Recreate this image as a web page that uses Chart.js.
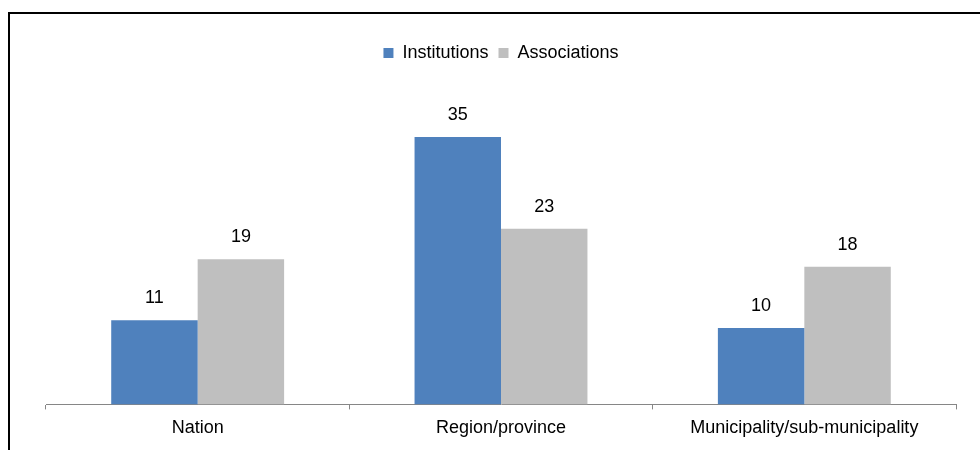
<!DOCTYPE html>
<html>
<head>
<meta charset="utf-8">
<script src="https://cdn.jsdelivr.net/npm/chart.js@4/dist/chart.umd.min.js"></script>
<style>
  html, body { margin: 0; padding: 0; background: #fff; }
  #wrap { position: relative; width: 980px; height: 450px; overflow: hidden; }
  #frame { position: absolute; left: 8px; top: 12px; width: 1000px; height: 500px;
           border-top: 2px solid #000; border-left: 2px solid #000; }
  canvas { position: absolute; left: 0; top: 0; }
</style>
</head>
<body>
<div id="wrap">
  <div id="frame"></div>
  <canvas id="chart_1" width="980" height="450"></canvas>
</div>
<script>
const categories = ['Nation', 'Region/province', 'Municipality/sub-municipality']
const institutions = [11, 35, 10]
const associations = [19, 23, 18]

const FONT = 'Liberation Sans, Arial, sans-serif'

// numbers above each bar, placed from the bar elements
const valueLabels = {
  id: 'valueLabels',
  afterDatasetsDraw(chart) {
    const ctx = chart.ctx
    ctx.save()
    ctx.font = '18px ' + FONT
    ctx.fillStyle = '#000'
    ctx.textAlign = 'center'
    ctx.textBaseline = 'middle'
    chart.data.datasets.forEach((ds, i) => {
      chart.getDatasetMeta(i).data.forEach((bar, j) => {
        ctx.fillText(ds.data[j], bar.x, bar.y - 22)
      })
    })
    ctx.restore()
  }
}

new Chart('chart_1', {
  type: 'bar',
  data: {
    labels: categories,
    datasets: [
      { label: 'Institutions', data: institutions, backgroundColor: '#4F81BD' },
      { label: 'Associations', data: associations, backgroundColor: '#BFBFBF' }
    ]
  },
  options: {
    responsive: false,
    animation: false,
    categoryPercentage: 0.57,
    barPercentage: 1,
    layout: { padding: { left: 46, right: 24, top: 34, bottom: 3 } },
    plugins: {
      tooltip: { enabled: false },
      legend: {
        labels: {
          boxWidth: 10, boxHeight: 10, padding: 10,
          color: '#000', font: { family: FONT, size: 18 }
        }
      }
    },
    scales: {
      x: {
        grid: { drawOnChartArea: false, drawTicks: true, tickLength: 5, color: '#868686' },
        border: { color: '#868686', width: 1 },
        ticks: { color: '#000', padding: 8, font: { family: FONT, size: 18 } }
      },
      y: { display: false, min: 0, max: 43.5 }
    }
  },
  plugins: [valueLabels]
})
</script>
</body>
</html>
